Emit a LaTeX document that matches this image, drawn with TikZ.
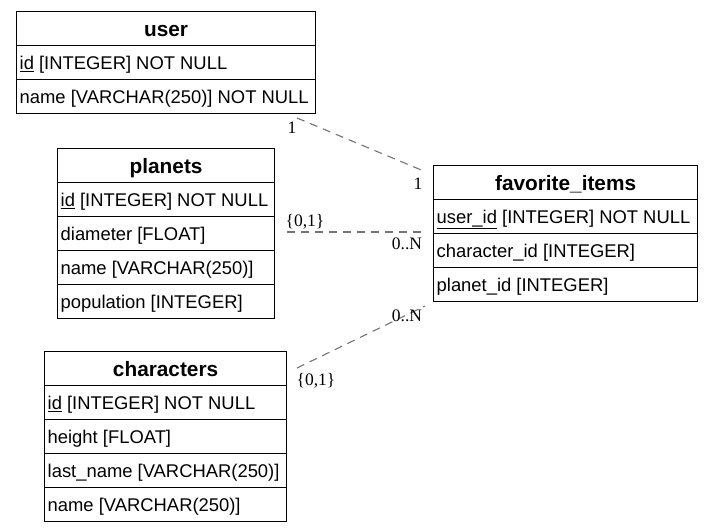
\documentclass[tikz,border=0pt]{standalone}
\usepackage{fontspec}
\setmainfont{Liberation Serif}
\newfontfamily\hv{Liberation Sans}
\newcommand{\erdtable}[6]{%
  \node[cell, minimum width=#4] (#1) at (#2,#3) {};
  \node[hdrtxt] (#1-t) at ([yshift=-7.5pt]#1.center) {#5};
  \foreach \r [count=\i] in {#6} {
    \node[cell, minimum width=#4] (#1-\i) at (#2,#3+34*\i) {};
    \node[rowtxt] (#1-\i-t) at ([xshift=3.5pt,yshift=-7pt]#1-\i.west) {\r};
  }
}
\begin{document}
\begin{tikzpicture}[x=1pt,y=-1pt,
  cell/.style={draw=black, line width=1.2pt, minimum height=34pt, inner sep=0pt, anchor=north west},
  hdrtxt/.style={font=\hv\bfseries\fontsize{20.8}{24}\selectfont, anchor=base, inner sep=0pt},
  rowtxt/.style={font=\hv\fontsize{18.4}{22}\selectfont, anchor=base west, inner sep=0pt},
  rel/.style={draw=black!55, line width=1.1pt, dash pattern=on 8pt off 6pt},
  card/.style={font=\fontsize{17.5}{20}\selectfont, inner sep=0pt}]
\useasboundingbox (0,0) rectangle (713,531);
\erdtable{user}{16}{11}{299}{user}{\underline{id} [INTEGER] NOT NULL, name [VARCHAR(250)] NOT NULL}
\erdtable{planets}{57}{148}{217}{planets}{\underline{id} [INTEGER] NOT NULL, diameter [FLOAT], name [VARCHAR(250)], population [INTEGER]}
\erdtable{characters}{44}{351}{242}{characters}{\underline{id} [INTEGER] NOT NULL, height [FLOAT], last\_name [VARCHAR(250)], name [VARCHAR(250)]}
\erdtable{fav}{433}{165}{264}{favorite\_items}{\underline{user\_id} [INTEGER] NOT NULL, character\_id [INTEGER], planet\_id [INTEGER]}
% connector end points
\coordinate (u-a) at (297,118);
\coordinate (u-b) at (426,172);
\coordinate (p-a) at (287,232);
\coordinate (p-b) at (425,232);
\coordinate (c-a) at (297,368);
\coordinate (c-b) at (425,306);
\draw[rel] (u-a) -- (u-b);
\draw[rel] (p-a) -- (p-b);
\draw[rel] (c-a) -- (c-b);
% cardinalities
\node[card] (l1) at (292,128) {1};
\node[card] (l2) at (418,184) {1};
\node[card] (l3) at (305,222) {\{0,1\}};
\node[card] (l4) at (407,244) {0..N};
\node[card] (l5) at (407,316) {0..N};
\node[card] (l6) at (316,381) {\{0,1\}};
\end{tikzpicture}
\end{document}
